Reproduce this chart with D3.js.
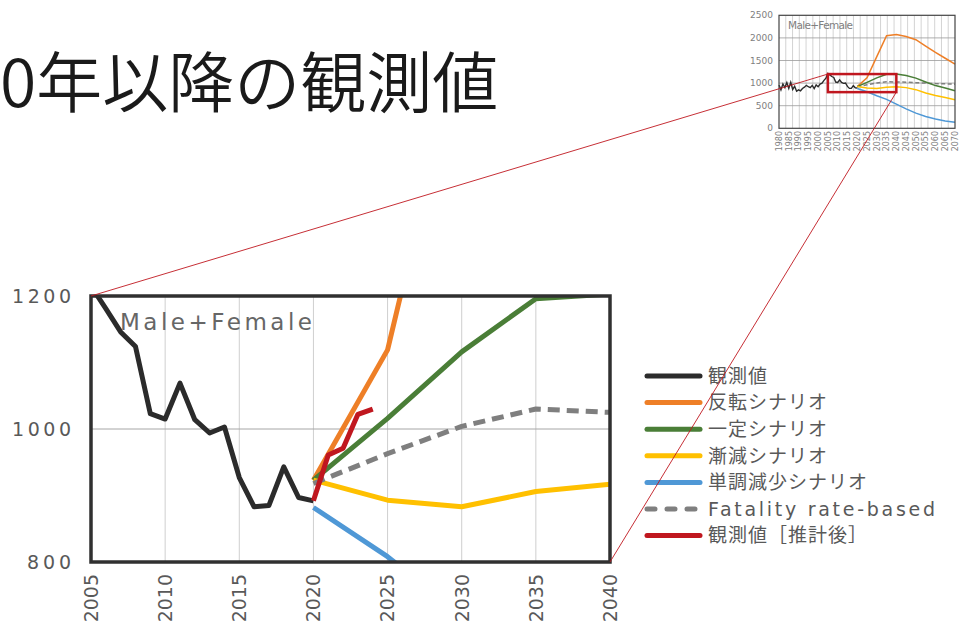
<!DOCTYPE html>
<html><head><meta charset="utf-8">
<script src="https://cdn.jsdelivr.net/npm/d3@7"></script>
<style>
html,body{margin:0;padding:0;background:#fff;}
svg{display:block;font-family:"Noto Sans CJK JP","Noto Sans",sans-serif;}
</style></head>
<body>
<svg id="c" width="959" height="624"></svg>
<script>
// ---- data ----
const titleText = "0年以降の観測値";
const panelLabel = "Male+Female";
const observedYears = d3.range(1980, 2021);
const observedValues = [960, 850, 980, 900, 1010, 880, 1020, 860, 930, 820,
  850, 830, 880, 910, 950, 920, 900, 950, 880, 960,
  920, 980, 1000, 1060, 1110,
  1215, 1181, 1146, 1124, 1023, 1015, 1069, 1014, 994, 1003,
  927, 883, 885, 943, 897, 892];
const scenarioYears = [2020, 2025, 2030, 2035, 2040, 2045, 2050, 2055, 2060, 2065, 2070];
const reversalValues = [923, 1119, 1585, 2050, 2075, 2030, 1960, 1820, 1680, 1550, 1420];
const constantValues = [923, 1016, 1116, 1196, 1203, 1170, 1110, 1025, 945, 890, 830];
const graduallyValues = [923, 893, 883, 906, 917, 900, 855, 780, 725, 680, 630];
const monotoneValues = [882, 808, 720, 640, 535, 430, 335, 260, 205, 162, 133];
const fatalityValues = [918, 963, 1004, 1030, 1025, 1020, 1010, 1000, 990, 985, 975];
const estimatedYears = [2020, 2021, 2022, 2023, 2024];
const estimatedValues = [892, 961, 971, 1022, 1030];
const legendLabels = ["観測値", "反転シナリオ", "一定シナリオ", "漸減シナリオ", "単調減少シナリオ", "Fatality rate-based", "観測値［推計後］"];
const mainYTicks = [800, 1000, 1200];
const mainXTicks = [2005, 2010, 2015, 2020, 2025, 2030, 2035, 2040];
const insetYTicks = [0, 500, 1000, 1500, 2000, 2500];
const insetXTicks = d3.range(1980, 2071, 5);

// ---- styles ----
const colors = ["#2b2b2b", "#EE7F27", "#4A7E37", "#FFC000", "#4F98D6", "#7F7F7F", "#C0171F"];
const dashes = [null, null, null, null, null, "12,7", null];
const latin = "\"DejaVu Sans\",sans-serif";

const seriesMain = [
  {x: observedYears, y: observedValues},
  {x: scenarioYears, y: reversalValues},
  {x: scenarioYears, y: constantValues},
  {x: scenarioYears, y: graduallyValues},
  {x: scenarioYears, y: monotoneValues},
  {x: scenarioYears, y: fatalityValues},
  {x: estimatedYears, y: estimatedValues}
];
const toPts = s => s.x.map((d, i) => [d, s.y[i]]);

const svg = d3.select("#c");

// title
svg.append("text").attr("x", 0).attr("y", 107)
  .attr("font-size", 66).attr("font-weight", 350).attr("fill", "#1a1a1a")
  .text(titleText);

// ---------- main chart ----------
const x = d3.scaleLinear().domain([2005, 2040]).range([91, 610]);
const y = d3.scaleLinear().domain([800, 1200]).range([562, 296]);

svg.append("defs").append("clipPath").attr("id", "mclip")
  .append("rect").attr("x", 91).attr("y", 296).attr("width", 519).attr("height", 266);

const g = svg.append("g");
// grid
g.selectAll("line.vg").data(mainXTicks.slice(1, -1)).join("line")
  .attr("x1", d => x(d)).attr("x2", d => x(d)).attr("y1", y(1200)).attr("y2", y(800))
  .attr("stroke", "#cfcfcf").attr("stroke-width", 1);
g.selectAll("line.hg").data([1000]).join("line")
  .attr("x1", x(2005)).attr("x2", x(2040)).attr("y1", d => y(d)).attr("y2", d => y(d))
  .attr("stroke", "#a6a6a6").attr("stroke-width", 1);

const lineMain = d3.line().x(d => x(d[0])).y(d => y(d[1]));
const plot = g.append("g").attr("clip-path", "url(#mclip)");
[0, 1, 2, 3, 4, 5, 6].forEach(i => {
  plot.append("path").datum(toPts(seriesMain[i]))
    .attr("d", lineMain).attr("fill", "none")
    .attr("stroke", colors[i]).attr("stroke-width", 5)
    .attr("stroke-linejoin", "round")
    .attr("stroke-dasharray", dashes[i]);
});

// frame
g.append("rect").attr("x", x(2005)).attr("y", y(1200))
  .attr("width", x(2040) - x(2005)).attr("height", y(800) - y(1200))
  .attr("fill", "none").attr("stroke", "#303030").attr("stroke-width", 3.5);

// y axis labels
const yAxis = d3.axisLeft(y).tickValues(mainYTicks).tickSize(0).tickPadding(0).tickFormat(d3.format("d"));
const ya = g.append("g").attr("transform", "translate(71,0)").call(yAxis);
ya.select(".domain").remove();
ya.selectAll("text").attr("font-size", 19).attr("fill", "#595959")
  .attr("font-family", latin)
  .attr("textLength", d => String(d).length === 4 ? 59 : 44)
  .attr("lengthAdjust", "spacing");

// x axis labels (rotated)
const xa = g.append("g");
xa.selectAll("text").data(mainXTicks).join("text")
  .attr("transform", d => `translate(${x(d)},574) rotate(-90)`)
  .attr("text-anchor", "end").attr("dy", "0.36em")
  .attr("font-size", 19).attr("fill", "#595959").attr("font-family", latin)
  .text(d => d);

// panel label
g.append("text").attr("x", 120).attr("y", 330)
  .attr("font-size", 23).attr("fill", "#666").attr("font-family", latin)
  .attr("textLength", 192).attr("lengthAdjust", "spacing")
  .text(panelLabel);

// legend
const lg = svg.append("g");
legendLabels.forEach((lab, i) => {
  const yy = 376 + i * 26.6;
  lg.append("line").attr("x1", 647).attr("x2", 700).attr("y1", yy).attr("y2", yy)
    .attr("stroke", colors[i]).attr("stroke-width", 5).attr("stroke-linecap", "round")
    .attr("stroke-dasharray", i === 5 ? "8,12" : null);
  const t = lg.append("text").attr("x", 708).attr("y", yy).attr("dy", "0.36em")
    .attr("font-size", 19).attr("fill", "#595959").text(lab);
  if (i === 5) t.attr("font-family", latin).attr("textLength", 227).attr("lengthAdjust", "spacing");
  else t.attr("letter-spacing", 1);
});

// ---------- inset chart ----------
const xi = d3.scaleLinear().domain([1980, 2070]).range([779, 955]);
const yi = d3.scaleLinear().domain([0, 2500]).range([128.3, 15.3]);
const ig = svg.append("g");
const nGrid = 26;
ig.selectAll("line.ivg").data(d3.range(1, nGrid)).join("line")
  .attr("x1", d => 779 + d * (955 - 779) / nGrid).attr("x2", d => 779 + d * (955 - 779) / nGrid)
  .attr("y1", yi(2500)).attr("y2", yi(0))
  .attr("stroke", "#c8c8c8").attr("stroke-width", 0.8);
ig.selectAll("line.ihg").data(insetYTicks.slice(1, -1)).join("line")
  .attr("x1", xi(1980)).attr("x2", xi(2070)).attr("y1", d => yi(d)).attr("y2", d => yi(d))
  .attr("stroke", "#9a9a9a").attr("stroke-width", 0.8);

ig.append("text").attr("x", 788).attr("y", 29).attr("font-size", 10.5).attr("fill", "#808080")
  .attr("font-family", latin).attr("textLength", 65).attr("lengthAdjust", "spacing")
  .text(panelLabel);

const lineIn = d3.line().x(d => xi(d[0])).y(d => yi(d[1]));
[5, 1, 2, 3, 4, 0].forEach(i => {
  ig.append("path").datum(toPts(seriesMain[i])).attr("d", lineIn)
    .attr("fill", "none").attr("stroke", colors[i])
    .attr("stroke-width", i === 0 ? 1.4 : 1.5)
    .attr("stroke-dasharray", i === 5 ? "4,2.5" : null);
});
ig.append("rect").attr("x", xi(1980)).attr("y", yi(2500))
  .attr("width", xi(2070) - xi(1980)).attr("height", yi(0) - yi(2500))
  .attr("fill", "none").attr("stroke", "#444").attr("stroke-width", 1.2);

ig.selectAll("text.iy").data(insetYTicks).join("text")
  .attr("x", 773).attr("y", d => yi(d)).attr("dy", "0.35em")
  .attr("text-anchor", "end").attr("font-size", 9).attr("fill", "#808080")
  .attr("font-family", latin)
  .text(d => d);
ig.selectAll("text.ix").data(insetXTicks).join("text")
  .attr("transform", d => `translate(${xi(d)},131) rotate(-90)`)
  .attr("text-anchor", "end").attr("dy", "0.35em")
  .attr("font-size", 8).attr("fill", "#808080").attr("font-family", latin)
  .text(d => d);

// zoom rectangle
ig.append("rect").attr("x", xi(2005)).attr("y", yi(1200))
  .attr("width", xi(2040) - xi(2005)).attr("height", yi(800) - yi(1200))
  .attr("fill", "none").attr("stroke", "#C0171F").attr("stroke-width", 2.5);

// connectors
const cg = svg.append("g");
cg.append("line").attr("x1", x(2005)).attr("y1", y(1200)).attr("x2", xi(2005)).attr("y2", yi(1200))
  .attr("stroke", "#C0171F").attr("stroke-width", 0.9);
cg.append("line").attr("x1", x(2040)).attr("y1", y(800)).attr("x2", xi(2040)).attr("y2", yi(800))
  .attr("stroke", "#C0171F").attr("stroke-width", 0.9);
</script>
</body></html>
